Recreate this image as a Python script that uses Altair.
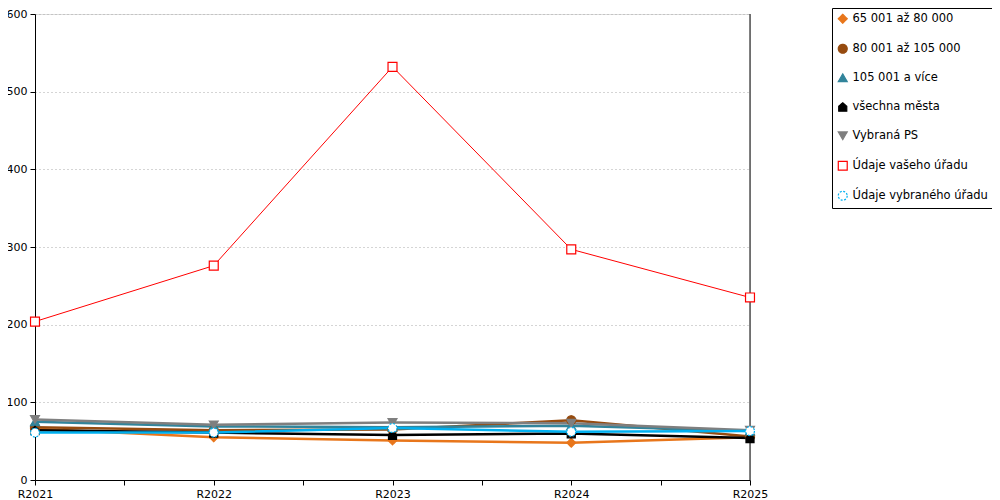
import json
import altair as alt
import pandas as pd

years = ["R2021", "R2022", "R2023", "R2024", "R2025"]
series = ["65 001 až 80 000", "80 001 až 105 000", "105 001 a více",
          "všechna města", "Vybraná PS", "Údaje vašeho úřadu", "Údaje vybraného úřadu"]
v_orange = [66, 55, 51, 48, 55]
v_brown = [68, 64, 65, 77, 56]
v_teal = [75, 69, 68, 70, 63]
v_black = [64, 61, 58, 60, 54]
v_gray = [78, 71, 74, 73, 64]
v_red = [204, 276, 532, 297, 235]
v_blue = [61, 61, 67, 62, 63]

stroke_colors = ["#E8761B", "#964B0F", "#31849B", "#000000", "#7F7F7F", "#FF0000", "#00B0F0"]
fill_colors = ["#E8761B", "#964B0F", "#31849B", "#000000", "#7F7F7F", "#FFFFFF", "#FFFFFF"]
house = "M-0.9,1 L0.9,1 L0.9,-0.1 L0,-0.9 L-0.9,-0.1 Z"
shapes = ["diamond", "circle", "triangle-up", house, "triangle-down", "square", "circle"]
dashes = [[1, 0], [1, 0], [1, 0], [1, 0], [1, 0], [1, 0], [2, 1.5]]

all_vals = [v_orange, v_brown, v_teal, v_black, v_gray, v_red, v_blue]
rows = []
for si, (name, vals) in enumerate(zip(series, all_vals)):
    for i, v in enumerate(vals):
        rows.append({"serie": name, "idx": i, "rok": years[i], "hodnota": v, "ord": si,
                     "thin": name == "Údaje vašeho úřadu"})
df = pd.DataFrame(rows)

label_expr = "datum.value % 1 === 0 ? " + json.dumps(years) + "[datum.value] : ''"

x_enc = alt.X("idx:Q",
              scale=alt.Scale(domain=[0, 4], nice=False, zero=False),
              axis=alt.Axis(values=[0, 0.5, 1, 1.5, 2, 2.5, 3, 3.5, 4], labelExpr=label_expr,
                            title=None, grid=False, domainColor="black", tickColor="black",
                            labelColor="black", labelFontSize=11, labelFont="DejaVu Sans",
                            tickSize=5, labelPadding=3, labelFlush=False))
y_enc = alt.Y("hodnota:Q",
              scale=alt.Scale(domain=[0, 600], nice=False),
              axis=alt.Axis(values=[0, 100, 200, 300, 400, 500, 600], title=None, grid=True,
                            gridColor="#aaaaaa", gridDash=[1, 3], gridWidth=1,
                            domainColor="black", tickColor="black", labelColor="black",
                            labelFontSize=11, labelFont="DejaVu Sans", tickSize=5,
                            labelPadding=3))

base = alt.Chart(df)
leg = alt.Legend(title=None, orient="none", legendX=797, legendY=-6,
                 strokeColor="black", padding=5, labelFontSize=11.5, labelFont="DejaVu Sans",
                 labelColor="black", symbolSize=80, rowPadding=15, symbolStrokeWidth=1.2,
                 labelLimit=300, labelOffset=4)
color_scale = alt.Scale(domain=series, range=stroke_colors)

lines_thick = base.transform_filter("!datum.thin").mark_line(strokeWidth=2.5).encode(
    x=x_enc, y=y_enc,
    color=alt.Color("serie:N", scale=color_scale, legend=leg),
    order="idx:Q",
)
lines_thin = base.transform_filter("datum.thin").mark_line(strokeWidth=1).encode(
    x="idx:Q", y="hodnota:Q",
    color=alt.Color("serie:N", scale=color_scale, legend=leg),
    order="idx:Q",
)

points = base.mark_point(opacity=1, strokeWidth=1.2, size=80).encode(
    x="idx:Q", y="hodnota:Q",
    color=alt.Color("serie:N", scale=color_scale, legend=leg),
    shape=alt.Shape("serie:N", scale=alt.Scale(domain=series, range=shapes), legend=leg),
    fill=alt.Fill("serie:N", scale=alt.Scale(domain=series, range=fill_colors), legend=leg),
    strokeDash=alt.StrokeDash("serie:N", scale=alt.Scale(domain=series, range=dashes), legend=leg),
    order="ord:Q",
)

right_line = alt.Chart(pd.DataFrame({"k": [0]})).mark_rule(color="black", strokeWidth=1).encode(
    x=alt.datum(4)
)

chart = alt.layer(lines_thick, lines_thin, right_line, points).properties(
    width=715, height=466,
    autosize=alt.AutoSizeParams(type="none"),
    padding={"left": 27, "top": 6, "right": 242, "bottom": 20},
).configure_view(stroke=None).configure(background="white")

chart.save("out.html", embed_options={"renderer": "svg", "actions": False})
